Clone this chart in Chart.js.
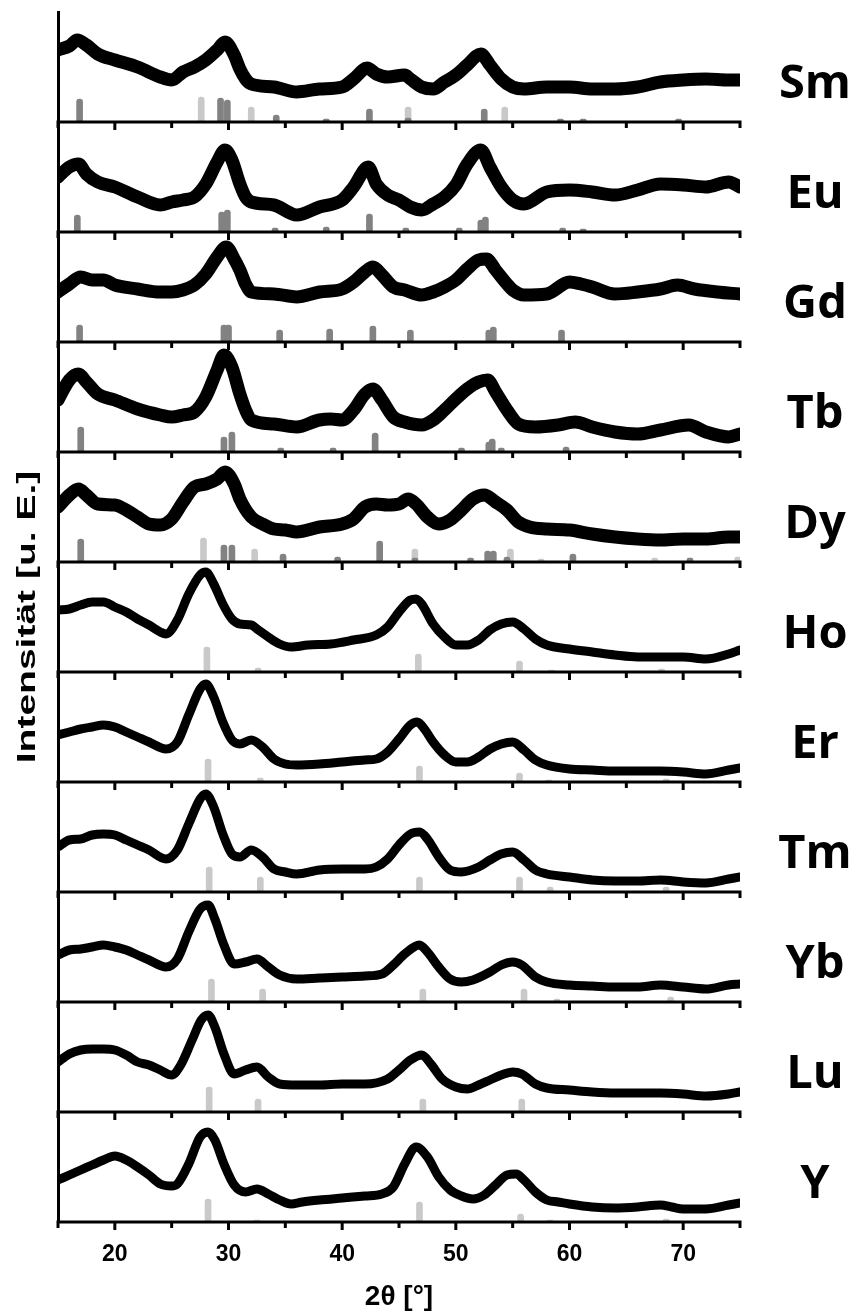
<!DOCTYPE html>
<html>
<head>
<meta charset="utf-8">
<script src="https://cdn.jsdelivr.net/npm/chart.js@4.4.1/dist/chart.umd.min.js"></script>
<style>
  html, body { margin: 0; padding: 0; background: #fff; }
</style>
</head>
<body>
<canvas id="xrd" width="857" height="1316"></canvas>
<script>
// element names, top to bottom
const elements = ["Sm", "Eu", "Gd", "Tb", "Dy", "Ho", "Er", "Tm", "Yb", "Lu", "Y"];
const tickMarks = [15, 20, 25, 30, 35, 40, 45, 50, 55, 60, 65, 70, 75];
const PANEL = 110;

// measured patterns: 2theta and intensity above each panel's baseline
const smTheta = [15,16,16.7,17.5,18.5,20,22,24,25,26,27,28,29,29.7,30.5,31,31.5,32,34,36,38,40,41,42.2,43,44,45.5,46,47,48,49,50,51,52.2,53,54,55,56,58,60,62,64,66,68,70,72,74,75];
const smI = [72,76,82,77,68,62,55,45,42,50,55,62,72,80,67,53,43,38,35,30,33,35,43,54,48,45,47,43,35,33,40,47,57,68,57,43,35,33,35,35,33,33,35,40,42,43,42,42];

const euTheta = [15,16,16.8,17.5,18.5,20,22,24,25,26,27,28,29,29.7,30.3,31,31.5,32,34,36,38,40,41,42.3,43,44,45,46,47,48,49,50,51,52.2,53,54,55,56,58,60,62,64,66,68,70,72,74,75];
const euI = [55,65,68,58,50,45,35,27,30,32,35,48,70,82,72,48,35,30,27,17,25,32,45,65,48,37,32,25,22,28,35,47,68,82,65,45,32,28,40,42,40,37,42,48,47,45,50,45];

const gdTheta = [15,16,17,18,19,20,22,24,25,26,27,28,29,29.8,30.5,31,31.5,32,34,36,38,40,41,42,42.7,43.5,44.5,45.5,47,48,49,50,51,52,52.7,53.5,54.5,55,56,58,60,61,62,64,66,68,69.5,71,73,75];
const gdI = [50,58,65,62,62,57,53,50,50,52,57,68,85,95,83,72,58,50,48,45,50,53,60,70,75,67,55,52,47,50,55,62,73,82,83,72,58,52,47,48,60,58,55,48,50,53,57,53,50,48];

const tbTheta = [15,16,16.8,17.5,18.5,20,22,24,25,26,27,28,29,29.6,30.3,31,31.5,32,34,36,38,39,40,41,42,42.7,43.5,44.5,45.5,47,48,49,50,51,52,52.8,53.5,54.5,55.5,57,59,60.5,62,64,66,68,70.5,72,74,75];
const tbI = [52,72,78,70,58,52,43,37,35,37,40,55,82,97,85,58,42,32,28,25,32,33,32,42,58,63,52,35,30,27,32,42,53,63,70,72,60,42,28,25,27,30,25,20,18,22,27,20,15,18];

const dyTheta = [15,16,16.8,17.5,18.5,20,21,22,23,24,25,26,27,28,29,29.7,30.5,31,32,33,34,35,36,38,40,41,42,43,44,45,45.8,46.5,47.5,48.5,49.5,50.5,51.5,52.5,53.5,54.5,55.5,56.5,58,60,62,64,66,68,70,72,74,75];
const dyI = [55,67,73,67,58,57,52,45,38,37,43,60,75,78,83,90,78,63,45,38,33,32,30,35,38,43,55,58,57,58,63,58,45,38,42,52,63,67,60,52,40,35,33,32,28,25,23,22,23,23,25,25];

const hoTheta = [15,16,17,18,19,20,21,22,23,24,24.5,25.5,26.5,27.5,28,28.7,29.5,30.3,31,32,32.5,33.5,34.5,35.5,37,39,41,43,44,45,46,46.5,47,48,49,50,51,52,53,54,55,56,57,58,60,62,64,66,68,70,72,74,75];
const hoI = [62,63,67,70,70,65,60,53,47,40,38,52,78,97,100,88,68,53,48,47,43,35,28,25,27,28,32,37,45,60,72,73,68,48,35,27,27,32,42,48,50,43,33,27,23,20,17,15,15,15,13,18,22];

const erTheta = [15,16,17,18,19,20,21,22,23,24.5,25.5,26.5,27.5,28,28.7,29.5,30.3,31,32,33,34,35,36,38,40,42,43,44,45,46,46.6,47.3,48,49,50,51,52,53,54,55,56,57,58,60,62,64,66,68,70,72,74,75];
const erI = [47,50,53,55,57,55,50,45,40,33,40,67,93,98,85,60,42,38,42,35,23,18,17,18,20,22,23,30,43,57,60,52,40,27,20,20,25,33,38,40,32,22,17,13,12,11,11,11,10,8,12,14];

const tmTheta = [15,16,17,18,19,20,21,22,23,24.5,25.5,26.5,27.5,28,28.7,29.5,30.3,31,32,33,34,35,36,38,40,42,43,44,45,46,46.8,47.5,48.5,49.5,50.5,52,53,54,55,56,57,58,60,62,64,66,68,70,72,74,75];
const tmI = [45,52,53,57,58,57,52,47,42,33,42,68,93,98,85,58,38,35,42,35,23,20,18,22,23,23,25,33,47,58,60,53,35,22,20,25,32,38,40,32,22,18,15,12,11,11,12,10,9,13,15];

const ybTheta = [15,16,17,18,19,20,21,22,23,24.5,25.5,26.5,27.5,28.2,28.8,29.6,30.5,31.5,32.5,33.5,34.5,36,38,40,42,43.5,44.5,45.5,46.8,47.5,48.5,49.5,50.5,51.5,53,54,55,55.8,57,58,60,62,64,66,68,70,72,74,75];
const ybI = [47,52,53,55,57,55,52,47,42,35,43,70,93,97,83,57,38,40,43,35,27,23,24,25,26,28,37,48,57,50,35,23,20,22,30,37,40,37,25,20,17,16,15,15,17,15,13,17,18];

const luTheta = [15,16,17,18,19,20,21,22,23,24,25,25.8,26.8,27.6,28.2,28.8,29.6,30.5,31.5,32.5,33.5,34.5,36,38,40,42,44,45,46,47,47.8,48.8,50,51,52,53,54,55,55.8,57,58,60,62,64,66,68,70,72,74,75];
const luI = [50,58,62,63,63,62,57,50,47,42,37,47,72,92,97,85,58,38,42,45,35,28,27,27,28,28,33,42,52,57,48,33,25,23,27,32,37,40,38,28,24,22,20,19,19,19,18,16,18,20];

const yTheta = [15,16,17,18,19,20,21,22,23,24,25,25.5,26.5,27.5,28.2,28.8,29.6,30.5,31.5,32.5,33.5,34.5,35.5,36.5,38,40,42,43.5,44.5,45.5,46.5,47.5,48.5,49.5,50.5,51.5,52.5,53.5,54.5,55.3,56,57,58,59,60,62,64,66,68,69,70,72,74,75];
const yI = [42,47,52,57,62,66,62,55,47,38,36,38,58,85,90,82,58,37,30,33,28,22,18,20,22,24,26,28,35,58,75,65,45,32,26,23,27,37,47,48,42,30,22,20,18,15,14,15,17,15,13,13,17,19];

// reference reflections [2theta, height], dark and light grey
const smDark = [[16.9,23],[29.3,24],[29.9,22],[34.2,7],[38.6,3],[42.4,13],[45.8,4],[52.5,13],[59.2,3],[61.2,3],[69.6,3]];
const smLight = [[27.6,25],[32.0,15],[45.8,15],[54.3,15]];
const euDark = [[16.7,17],[29.4,20],[29.9,22],[34.1,4],[38.6,5],[42.4,18],[45.6,4],[50.3,4],[52.2,12],[52.6,15],[59.4,4],[61.2,3]];
const gdDark = [[16.9,17],[29.6,17],[30.0,17],[34.5,12],[38.9,13],[42.7,16],[46.0,12],[52.9,12],[53.3,15],[59.3,12]];
const tbDark = [[17.0,25],[29.6,15],[30.3,20],[34.6,4],[39.2,4],[42.9,19],[50.5,4],[52.9,10],[53.2,13],[54.0,4],[59.7,5]];
const dyDark = [[17.0,23],[29.6,17],[30.3,17],[34.8,8],[39.6,5],[43.3,21],[46.4,4],[51.3,4],[52.8,11],[53.3,11],[54.5,5],[60.3,8],[70.6,4]];
const dyLight = [[27.8,24],[32.3,13],[46.4,13],[54.8,13],[57.5,3],[67.5,4],[74.8,5]];
const hoLight = [[28.1,25],[32.6,4],[46.7,18],[55.6,11],[58.4,2],[68.1,3]];
const erLight = [[28.2,23],[32.8,4],[46.8,16],[55.6,9],[58.2,2],[68.5,3]];
const tmLight = [[28.3,25],[32.8,15],[46.8,15],[55.6,15],[58.3,5],[68.5,5]];
const ybLight = [[28.5,23],[33.0,13],[47.1,13],[56.0,13],[58.9,3],[68.9,5]];
const luLight = [[28.3,25],[32.6,13],[47.1,13],[55.8,13]];
const yLight = [[28.2,23],[32.5,2],[46.8,20],[55.7,8],[58.3,2],[68.5,3]];

const panels = [
  { theta: smTheta, inten: smI, dark: smDark, light: smLight, noisy: true },
  { theta: euTheta, inten: euI, dark: euDark, light: [], noisy: true },
  { theta: gdTheta, inten: gdI, dark: gdDark, light: [], noisy: true },
  { theta: tbTheta, inten: tbI, dark: tbDark, light: [], noisy: true },
  { theta: dyTheta, inten: dyI, dark: dyDark, light: dyLight, noisy: true },
  { theta: hoTheta, inten: hoI, dark: [], light: hoLight, noisy: false },
  { theta: erTheta, inten: erI, dark: [], light: erLight, noisy: false },
  { theta: tmTheta, inten: tmI, dark: [], light: tmLight, noisy: false },
  { theta: ybTheta, inten: ybI, dark: [], light: ybLight, noisy: false },
  { theta: luTheta, inten: luI, dark: [], light: luLight, noisy: false },
  { theta: yTheta, inten: yI, dark: [], light: yLight, noisy: false },
];

const baseOf = (i) => (elements.length - 1 - i) * PANEL;

function stickSet(list, base, color, order) {
  return {
    type: "bar",
    data: list.map(([t, h]) => ({ x: t, y: [base, base + h] })),
    backgroundColor: color,
    barThickness: 6,
    grouped: false,
    borderSkipped: false,
    borderRadius: { topLeft: 3, topRight: 3, bottomLeft: 0, bottomRight: 0 },
    order,
  };
}

const datasets = [];
panels.forEach((p, i) => {
  const base = baseOf(i);
  datasets.push({
    type: "line",
    data: p.theta.map((t, k) => ({ x: t, y: base + p.inten[k] })),
    borderColor: "#000",
    borderWidth: p.noisy ? 13 : 9,
    pointRadius: 0,
    cubicInterpolationMode: "monotone",
    borderJoinStyle: "round",
    borderCapStyle: "round",
    order: 0,
  });
  if (p.dark.length) datasets.push(stickSet(p.dark, base, "#828282", 1));
  if (p.light.length) datasets.push(stickSet(p.light, base, "#c9c9c9", 2));
});

// panel baselines, their tick marks, element names and the y title
const panelPlugin = {
  id: "panels",
  afterDatasetsDraw(chart) {
    const { ctx, chartArea, scales: { x, y } } = chart;
    ctx.save();
    ctx.strokeStyle = "#000";
    ctx.lineWidth = 3;
    elements.forEach((name, i) => {
      const py = y.getPixelForValue(baseOf(i));
      ctx.beginPath();
      ctx.moveTo(x.left - 1.5, py);
      ctx.lineTo(x.right + 1.5, py);
      tickMarks.forEach((t) => {
        const px = x.getPixelForValue(t);
        ctx.moveTo(px, py);
        ctx.lineTo(px, py + (t % 10 === 0 ? 8 : 6));
      });
      ctx.stroke();

      ctx.fillStyle = "#000";
      ctx.font = 'bold 47px "Open Sans"';
      ctx.textAlign = "center";
      ctx.textBaseline = "alphabetic";
      ctx.fillText(name, 815, py - 24);
    });

    // axis title, stretched along its length like the source figure
    ctx.translate(28, (chartArea.top + chartArea.bottom) / 2);
    ctx.rotate(-Math.PI / 2);
    ctx.scale(1.5, 1);
    ctx.font = 'bold 26px "Liberation Sans", Arial, sans-serif';
    ctx.textAlign = "center";
    ctx.textBaseline = "middle";
    ctx.fillText("Intensität [u. E.]", 0, 0);
    ctx.restore();
  },
};

new Chart(document.getElementById("xrd"), {
  type: "line",
  data: { datasets },
  options: {
    responsive: false,
    animation: false,
    layout: { padding: { top: 12, right: 117, left: 0, bottom: 0 } },
    plugins: { legend: { display: false }, tooltip: { enabled: false } },
    scales: {
      x: {
        type: "linear",
        min: 15,
        max: 75,
        offset: false,
        grid: { display: false, drawTicks: false, offset: false },
        border: { display: false },
        ticks: {
          stepSize: 5,
          autoSkip: false,
          maxRotation: 0,
          padding: 19,
          color: "#000",
          font: { family: '"Liberation Sans", Arial, sans-serif', size: 23, weight: "bold" },
          callback: (v) => (v % 10 === 0 ? v : ""),
        },
        title: {
          display: true,
          text: "2θ [°]",
          color: "#000",
          font: { family: '"Liberation Sans", Arial, sans-serif', size: 28, weight: "bold" },
          padding: { top: 0, bottom: 2 },
        },
        afterFit: (scale) => { scale.height = 94; },
      },
      y: {
        type: "linear",
        min: 0,
        max: elements.length * PANEL,
        grid: { display: false, drawTicks: false },
        border: { display: true, color: "#000", width: 3 },
        ticks: { display: false },
        afterFit: (scale) => { scale.width = 58; },
      },
    },
  },
  plugins: [panelPlugin],
});
</script>
</body>
</html>
